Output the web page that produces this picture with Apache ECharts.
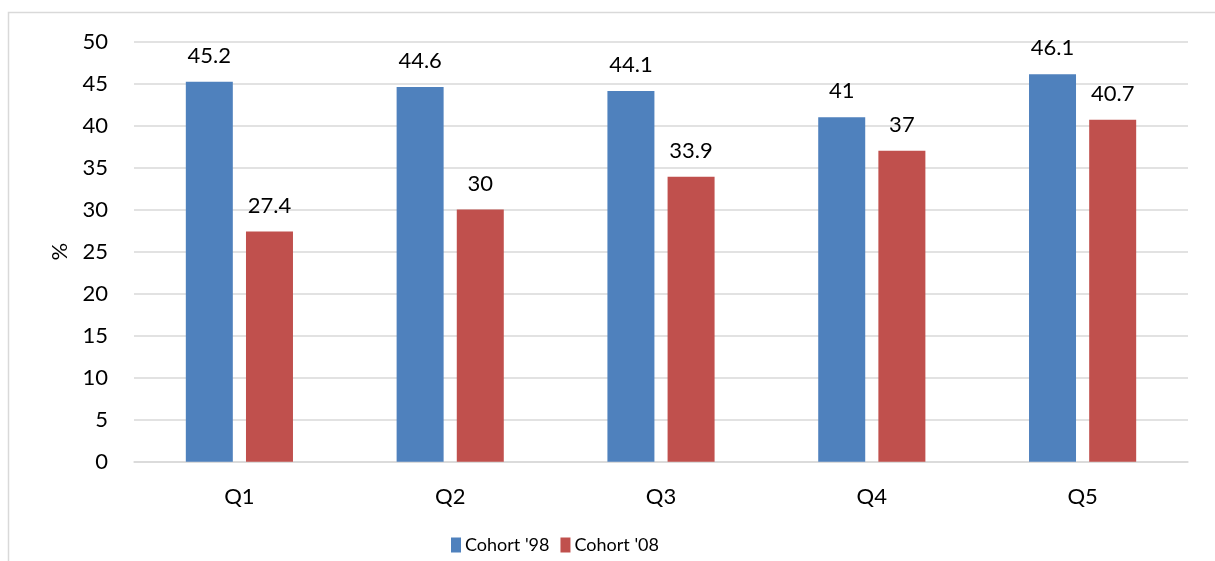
<!DOCTYPE html>
<html>
<head>
<meta charset="utf-8">
<script src="https://cdn.jsdelivr.net/npm/echarts@6/dist/echarts.min.js"></script>
<style>
html,body{margin:0;padding:0;background:#fff;}
#c{width:1215px;height:561px;}
</style>
</head>
<body>
<div id="c"></div>
<script>
var categories = ['Q1','Q2','Q3','Q4','Q5'];
var cohort98 = [45.2, 44.6, 44.1, 41, 46.1];
var cohort08 = [27.4, 30, 33.9, 37, 40.7];
var seriesNames = ["Cohort '98", "Cohort '08"];

var FONT = 'Lato, "Open Sans", sans-serif';
var chart = echarts.init(document.getElementById('c'));
var labelStyle = {show:true, position:'top', distance:15, color:'#000', fontSize:22, fontFamily:FONT};
chart.setOption({
  animation:false,
  textStyle:{fontFamily:FONT},
  graphic:[
    {type:'polyline', shape:{points:[[8.5,561],[8.5,12.5],[1215,12.5]]}, style:{stroke:'#d9d9d9', lineWidth:1.5, fill:null}}
  ],
  grid:{left:134, right:27, top:41.5, bottom:99.3, containLabel:false},
  legend:{
    data:seriesNames, top:531, left:446, itemWidth:10, itemHeight:15, itemGap:11,
    icon:'rect',
    textStyle:{fontSize:18, color:'#000', fontFamily:FONT, padding:[0,0,0,-1]}
  },
  xAxis:{
    type:'category', data:categories,
    axisLine:{lineStyle:{color:'#d9d9d9', width:1.5}},
    axisTick:{show:false},
    axisLabel:{color:'#000', fontSize:22, margin:24, fontFamily:FONT}
  },
  yAxis:{
    type:'value', min:0, max:50, interval:5,
    name:'%', nameLocation:'middle', nameGap:63, nameRotate:90,
    nameTextStyle:{color:'#000', fontSize:22, fontFamily:FONT},
    axisLine:{show:false}, axisTick:{show:false},
    splitLine:{lineStyle:{color:'#d9d9d9', width:1.5}},
    axisLabel:{color:'#000', fontSize:22, margin:26, fontFamily:FONT}
  },
  series:[
    {name:seriesNames[0], type:'bar', data:cohort98, barWidth:47, barGap:'28%', itemStyle:{color:'#4F81BD'}, label:labelStyle},
    {name:seriesNames[1], type:'bar', data:cohort08, barWidth:47, itemStyle:{color:'#C0504D'}, label:labelStyle}
  ]
});
</script>
</body>
</html>
